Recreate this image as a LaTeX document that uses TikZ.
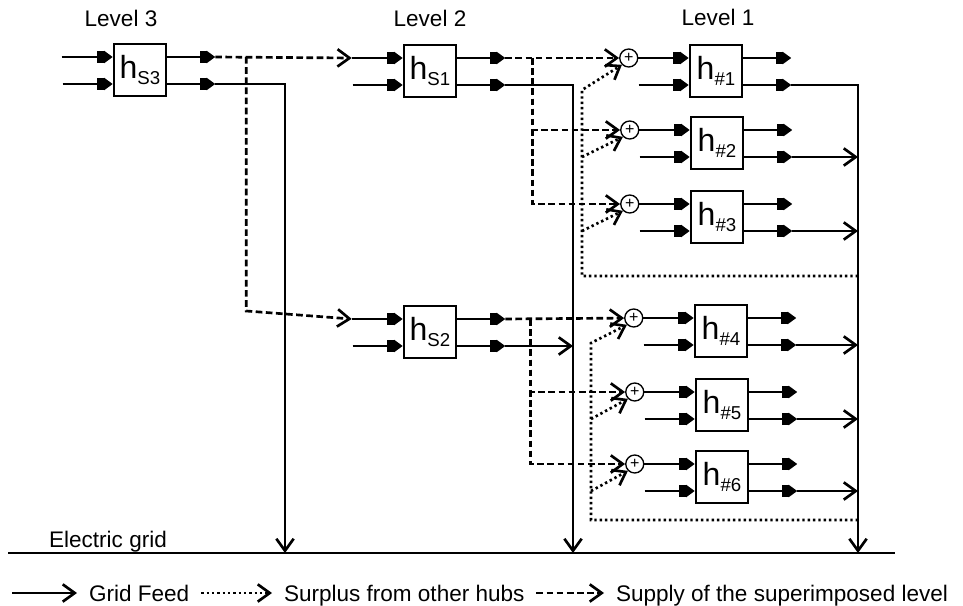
\documentclass[tikz,border=0pt]{standalone}
\usepackage{fontspec}
\setmainfont{Liberation Sans}
\usetikzlibrary{calc, arrows.meta, positioning}

\newcommand\lvlfont{\fontsize{16.9}{20}\selectfont}
\newcommand\hubname[2]{#1\raisebox{-5pt}{\fontsize{14}{14}\selectfont #2}}

\tikzset{
  hub/.style={draw, line width=1.9pt, minimum size=39pt, inner sep=0pt, font=\fontsize{24}{24}\selectfont},
  sum/.style={draw, circle, line width=1pt, minimum size=13.5pt, inner sep=0pt, font=\fontsize{12}{12}\selectfont},
  port/.style={-{Rectangle[length=5pt,width=9pt]Triangle[length=6.5pt,width=9pt]}},
  feed/.style={-{Straight Barb[length=9pt,width=13pt]}},
  supply/.style={dash pattern=on 5pt off 2.6pt},
  surplus/.style={dash pattern=on 1.8pt off 2.2pt},
  legend/.style={anchor=west, inner xsep=8pt, inner ysep=0pt, text height=12pt, text depth=0pt},
}

\begin{document}
\begin{tikzpicture}[x=.75pt, y=-.75pt, line width=2pt, font=\lvlfont]
  \useasboundingbox (0,0) rectangle (963,606);

  \node (lvl3) [anchor=base] at (121,27) {Level 3};
  \node (lvl2) [anchor=base] at (430,27) {Level 2};
  \node (lvl1) [anchor=base] at (718,26) {Level 1};

  % hubs
  \node[hub] (hs3) at (140,70) {\hubname{h}{S3}};
  \node[hub] (hs1) at (430,71) {\hubname{h}{S1}};
  \node[hub] (hs2) at (430,332) {\hubname{h}{S2}};
  \foreach \i/\x/\y in {1/716/71, 2/717/143, 3/717/217, 4/721/331, 5/722/405, 6/722/477}{
    \node[hub] (h\i) at (\x,\y) {\hubname{h}{\#\i}};
    \node[sum] (p\i) at ($(h\i.west)+(-60,-13)$) {+};
  }

  % ports of every hub
  \foreach \b in {hs3,hs1,hs2,h1,h2,h3,h4,h5,h6}{
    \coordinate (\b-iu) at ($(\b.west)+(0,-13)$);
    \coordinate (\b-il) at ($(\b.west)+(0,14)$);
    \coordinate (\b-ou) at ($(\b.east)+(0,-13)$);
    \coordinate (\b-ol) at ($(\b.east)+(0,14)$);
    \coordinate (\b-xu) at ($(\b-iu)+(-51,0)$);
    \coordinate (\b-xl) at ($(\b-il)+(-50,0)$);
    \coordinate (\b-tu) at ($(\b-ou)+(48,0)$);
    \coordinate (\b-tl) at ($(\b-ol)+(48,0)$);
    \draw[port] (\b-xl) -- (\b-il);
    \draw[port] (\b-ou) -- (\b-tu);
    \draw[port] (\b-ol) -- (\b-tl);
  }
  \foreach \b in {hs3,hs1,hs2} \draw[port] (\b-xu) -- (\b-iu);
  \foreach \i in {1,...,6} \draw[port] (p\i) -- (h\i-iu);

  % electric grid
  \coordinate (gl) at (8,553);
  \coordinate (gr) at (895,553);
  \coordinate (g3) at (285,553);
  \coordinate (g2) at (573,553);
  \coordinate (g1) at (858,553);
  \draw[line width=2.2pt] (gl) -- (gr);
  \node (grid) [anchor=base] at (108,547) {Electric grid};

  \draw[feed] (hs3-tl) -| (g3);
  \draw[feed] (hs1-tl) -| (g2);
  \draw[feed] (h1-tl) -| (g1);
  \draw[feed] (hs2-tl) -- (hs2-tl -| g2);
  \foreach \i in {2,...,6} \draw[feed] (h\i-tl) -- (h\i-tl -| g1);

  % supply of the level above
  \draw[supply, feed] (hs3-tu) -- (hs1-xu);
  \coordinate (d3) at ($(hs3-tu)+(31,0)$);
  \draw[supply, feed] (d3) -- ($(d3 |- hs2-iu)+(0,-8)$) -- (hs2-xu);
  \draw[supply, feed] (hs1-tu) -- (p1);
  \coordinate (d1) at ($(hs1-tu)+(27,0)$);
  \draw[supply, feed] (d1) |- (p2);
  \draw[supply, feed] (d1) |- (p3);
  \draw[supply, feed] (hs2-tu) -- (p4);
  \coordinate (d2) at ($(hs2-tu)+(25,0)$);
  \draw[supply, feed] (d2) |- (p5);
  \draw[supply, feed] (d2) |- (p6);

  % surplus loops
  \coordinate (s1) at (582,90);
  \coordinate (s1b) at (582,276);
  \draw[surplus, feed] (g1 |- s1b) -- (s1b) -- (s1) -- (p1.south west);
  \draw[surplus, feed] (s1 |- h2-il) -- (p2.south west);
  \draw[surplus, feed] (s1 |- h3-il) -- (p3.south west);
  \coordinate (s2) at (591,343);
  \coordinate (s2b) at (591,520);
  \draw[surplus, feed] (g1 |- s2b) -- (s2b) -- (s2) -- (p4.south west);
  \draw[surplus, feed] (s2 |- h5-il) -- (p5.south west);
  \draw[surplus, feed] (s2 |- h6-il) -- (p6.south west);

  % legend
  \coordinate (lg) at (12,593);
  \node[legend] (lgfeed) at (77,593) {Grid Feed};
  \node[legend] (lgsurplus) at (272,593) {Surplus from other hubs};
  \node[legend] (lgsupply) at (604,593) {Supply of the superimposed level};
  \draw[feed] (lg) -- (lgfeed.west);
  \draw[surplus, feed] (lgfeed.east) -- (lgsurplus.west);
  \draw[supply, feed] (lgsurplus.east) -- (lgsupply.west);
\end{tikzpicture}
\end{document}
